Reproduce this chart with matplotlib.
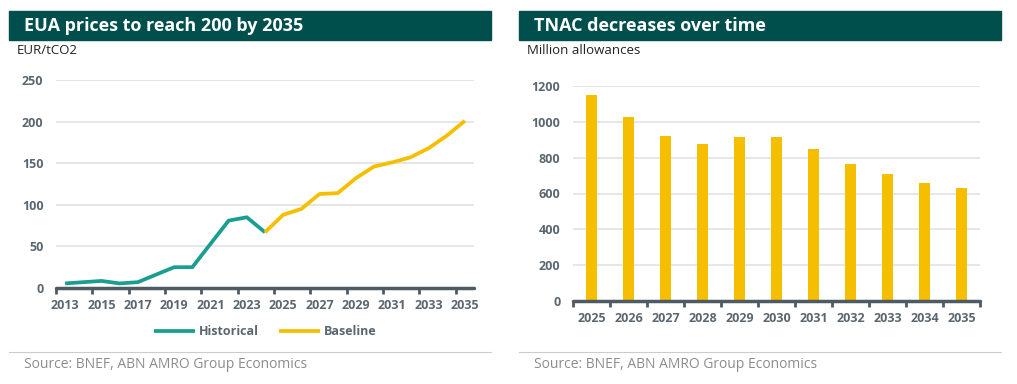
import matplotlib.pyplot as plt
from matplotlib.patches import Rectangle
from matplotlib.lines import Line2D
import numpy as np

# EUA prices (EUR/tCO2)
hist_years = [2013, 2014, 2015, 2016, 2017, 2018, 2019, 2020, 2021, 2022, 2023, 2024]
hist_price = [5.5, 7, 8.5, 5.5, 7, 16, 25, 25, 53, 81, 85, 67]
base_years = [2024, 2025, 2026, 2027, 2028, 2029, 2030, 2031, 2032, 2033, 2034, 2035]
base_price = [67, 88, 95, 113, 114, 132, 146, 151, 157, 168, 183, 201]

# TNAC (million allowances)
tnac_years = ['2025', '2026', '2027', '2028', '2029', '2030', '2031', '2032', '2033', '2034', '2035']
tnac_vals = [1152, 1027, 921, 877, 914, 914, 847, 765, 708, 658, 628]

HEADER = '#004f4c'
TEAL = '#1a9e8f'
YELLOW = '#f5bf00'
AXIS = '#4f5b63'
TICK = '#5b6770'
GRID = '#e2e2e2'

plt.rcParams['font.family'] = ['Open Sans', 'DejaVu Sans']

W, H = 1017, 384
fig = plt.figure(figsize=(W / 100, H / 100), dpi=100)


def fx(px):
    return px / W


def fy(py):
    return 1 - py / H


def frame(x0, x1, title, unit):
    # header band, unit label, separator and source
    fig.patches.append(Rectangle((fx(x0), fy(40)), fx(x1 - x0), (40 - 11) / H,
                                 transform=fig.transFigure, color=HEADER, zorder=0))
    fig.text(fx(x0 + 15), fy(26), title, color='white', fontsize=13,
             fontweight='bold', va='center', ha='left')
    fig.text(fx(x0 + 8), fy(51), unit, color='#222222', fontsize=9.5,
             va='center', ha='left')
    fig.lines.append(Line2D([fx(x0), fx(x1)], [fy(352), fy(352)],
                            transform=fig.transFigure, color='#cccccc', lw=0.8))
    fig.text(fx(x0 + 15), fy(365), 'Source: BNEF, ABN AMRO Group Economics',
             color='#8c8c8c', fontsize=10, va='center', ha='left')


def style(ax):
    for s in ['top', 'right', 'left']:
        ax.spines[s].set_visible(False)
    ax.spines['bottom'].set_color(AXIS)
    ax.spines['bottom'].set_linewidth(2.5)
    ax.spines['bottom'].set_capstyle('round')
    ax.grid(axis='y', color=GRID, lw=1.2)
    ax.set_axisbelow(True)
    ax.tick_params(axis='y', length=0, pad=9, labelcolor=TICK, labelsize=9)
    ax.tick_params(axis='x', which='major', length=0, pad=8, labelcolor=TICK, labelsize=9)
    ax.tick_params(axis='x', which='minor', length=4, width=2, color=AXIS)
    for lab in ax.get_xticklabels() + ax.get_yticklabels():
        lab.set_fontweight('bold')


frame(9, 491, 'EUA prices to reach 200 by 2035', 'EUR/tCO2')
frame(519, 1001, 'TNAC decreases over time', 'Million allowances')

# left: line chart
ax1 = fig.add_axes([fx(56), fy(288), fx(474 - 56), (288 - 80) / H])
ax1.plot(hist_years, hist_price, color=TEAL, lw=2.7, label='Historical', solid_capstyle='butt')
ax1.plot(base_years, base_price, color=YELLOW, lw=2.7, label='Baseline', solid_capstyle='butt')
ax1.set_ylim(0, 250)
ax1.set_yticks(range(0, 251, 50))
ax1.set_xlim(2012.5, 2035.5)
ax1.set_xticks(range(2013, 2036, 2))
ax1.set_xticks(np.arange(2012.5, 2035, 2), minor=True)
style(ax1)
ax1.legend(loc='upper center', bbox_to_anchor=(0.5, -0.125), ncol=2, frameon=False,
           prop={'weight': 'bold', 'size': 9}, labelcolor=TICK, handlelength=3.3,
           columnspacing=1.6, handletextpad=0.3)

# right: bar chart
ax2 = fig.add_axes([fx(573), fy(301), fx(980 - 573), (301 - 86) / H])
xpos = np.arange(len(tnac_years))
ax2.bar(xpos, tnac_vals, width=0.3, color=YELLOW)
ax2.set_ylim(0, 1200)
ax2.set_yticks(range(0, 1201, 200))
ax2.set_xlim(-0.5, len(tnac_years) - 0.5)
ax2.set_xticks(xpos)
ax2.set_xticklabels(tnac_years)
ax2.set_xticks(np.arange(-0.5, len(tnac_years), 1), minor=True)
style(ax2)

fig.savefig('out.png', dpi=100)
